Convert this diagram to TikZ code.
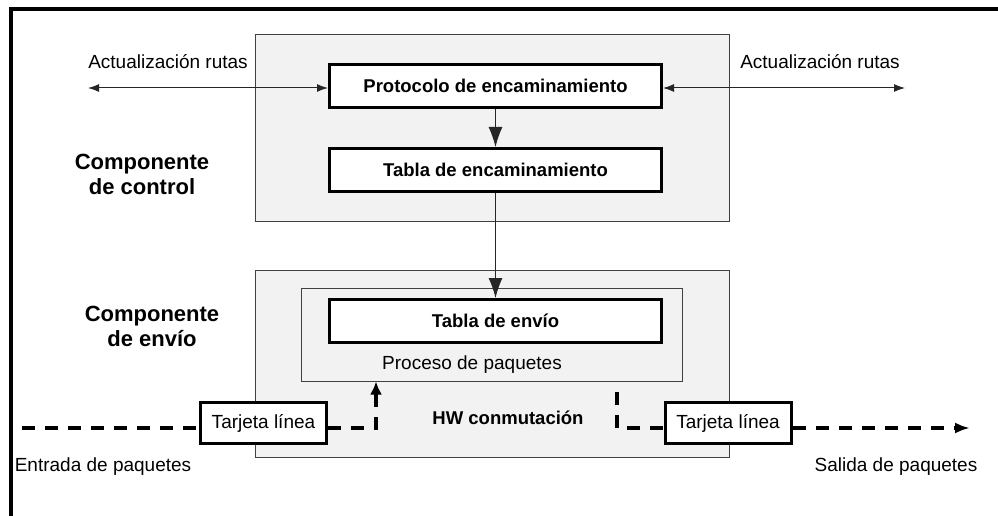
\documentclass[tikz,border=0pt]{standalone}
\usepackage{fontspec}
\setmainfont{Liberation Sans}
\usetikzlibrary{arrows.meta}
\newcommand{\txtreg}{\fontsize{19}{22}\selectfont}
\newcommand{\txtbold}{\fontsize{18.5}{21}\selectfont\bfseries}
\newcommand{\txtbig}{\fontsize{22}{25}\selectfont\bfseries}
\tikzset{
  compbox/.style={draw=black!75, fill=black!5, line width=1pt},
  tblbox/.style={draw, line width=3pt, fill=white, minimum width=332pt, minimum height=43pt, font=\txtbold},
  cardbox/.style={draw, line width=3pt, fill=white, minimum width=126pt, minimum height=41pt, font=\txtreg},
  upd/.style={black!85, line width=1pt, {Latex[length=11pt,width=8pt]}-{Latex[length=11pt,width=8pt]}},
  down/.style={black!85, line width=1pt, -{Latex[length=20pt,width=14pt]}},
  pkt/.style={line width=4pt, dash pattern=on 13pt off 10pt},
}
\begin{document}
\begin{tikzpicture}[x=1pt, y=-1pt]
\useasboundingbox (0,0) rectangle (998,516);
% marco
\draw[line width=4pt] (11,516) -- (11,9) -- (998,9);
% componente de control
\node[compbox, minimum width=474pt, minimum height=186pt] (ctrl) at (492,128) {};
\node[font=\txtbig, align=center] (ctrllbl) at (142,174) {Componente\\de control};
\node[tblbox] (proto) at (495.5,86) {Protocolo de encaminamiento};
\node[tblbox] (tenc) at (495.5,170) {Tabla de encaminamiento};
\coordinate (updL) at (88,88);
\coordinate (updR) at (905,88);
\node[font=\txtreg] (lblL) at (168,62) {Actualización rutas};
\node[font=\txtreg] (lblR) at (820,62) {Actualización rutas};
\draw[upd] (updL) -- (updL -| proto.west);
\draw[upd] (updR -| proto.east) -- (updR);
\draw[down] (proto) -- (tenc);
% componente de envio
\node[compbox, minimum width=474pt, minimum height=187pt] (envio) at (492,363.5) {};
\node[font=\txtbig, align=center] (envlbl) at (152,326) {Componente\\de envío};
\node[compbox, minimum width=381pt, minimum height=93pt] (proc) at (491.5,334.5) {};
\node[font=\txtreg] (proclbl) at (472,365) {Proceso de paquetes};
\node[tblbox] (tenv) at (495.5,321) {Tabla de envío};
\draw[down] (tenc) -- (tenv);
\node[font=\txtbold] (hw) at (508,418) {HW conmutación};
% tarjetas de linea
\node[cardbox] (cardL) at (263.5,423) {Tarjeta línea};
\node[cardbox] (cardR) at (728,423) {Tarjeta línea};
\coordinate (inL) at (22,428);
\coordinate (upL) at (376,428);
\coordinate (dnR) at (617,392);
\coordinate (outR) at (970,428);
\draw[pkt] (inL) -- (inL -| cardL.west);
\draw[pkt, -{Latex[length=13pt,width=12pt]}] (inL -| cardL.east) -- (upL) -- (upL |- proc.south);
\draw[pkt] (dnR) -- (dnR |- outR) -- (outR -| cardR.west);
\draw[pkt, -{Latex[length=15pt,width=11pt]}] (outR -| cardR.east) -- (outR);
\node[font=\txtreg] (inlbl) at (103,467) {Entrada de paquetes};
\node[font=\txtreg] (outlbl) at (896,467) {Salida de paquetes};
\end{tikzpicture}
\end{document}
